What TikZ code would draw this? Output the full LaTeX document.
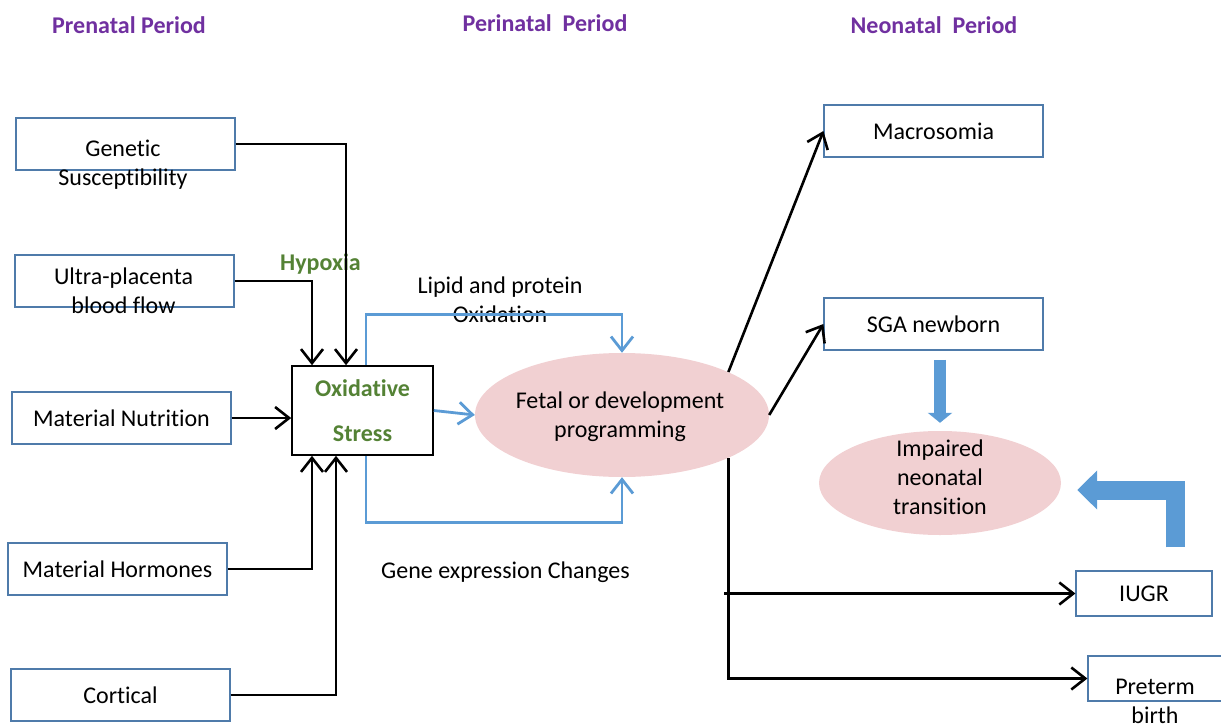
\documentclass[tikz,border=0pt]{standalone}
\usepackage{fontspec}
\setmainfont{Carlito}[Ligatures=NoCommon]
\usetikzlibrary{arrows.meta,shapes.geometric}
\definecolor{boxline}{HTML}{4F7BAA}
\definecolor{linkblue}{HTML}{5B9BD5}
\definecolor{pinkfill}{HTML}{F1D0D2}
\definecolor{titlepurple}{HTML}{7030A0}
\definecolor{stressgreen}{HTML}{548235}

\begin{document}
\begin{tikzpicture}[x=1pt,y=-1pt,
  every node/.style={font=\fontsize{24}{29}\selectfont, align=center, inner sep=0pt},
  period/.style={text=titlepurple, font=\fontsize{24}{28}\bfseries},
  factor/.style={draw=boxline, line width=1.2pt, minimum width=219pt, minimum height=52pt},
  blob/.style={ellipse, fill=pinkfill},
  link/.style={line width=2.6pt, -{Straight Barb[length=14pt,width=22pt]}},
  bluelink/.style={link, draw=linkblue, line width=2.8pt},
  fat/.style={draw=linkblue, line width=12pt, line join=miter, -{Triangle[length=10pt,width=24pt]}}]
  \useasboundingbox (0,0) rectangle (1221,725);

  \node (prenatal)  at (129,25) [period] {Prenatal Period};
  \node (perinatal) at (545,23) [period] {Perinatal\ \ Period};
  \node (neonatal)  at (934,25) [period] {Neonatal\ \ Period};

  \node (genetic)   at (125.5,144) [factor] {};
  \node (ultra)     at (124.5,281) [factor] {};
  \node (nutrition) at (121.5,418) [factor] {Material Nutrition};
  \node (hormones)  at (117.5,569) [factor] {Material Hormones};
  \node (cortical)  at (120.5,695) [factor] {Cortical};
  \node at (123,165) {Genetic\\Susceptibility};
  \node at (123.5,291) {Ultra-placenta\\blood flow};

  \node (oxidative) at (362.5,410.5) [draw, line width=1.6pt, minimum width=141pt, minimum height=89pt,
    text=stressgreen, font=\fontsize{24}{29}\bfseries] {Oxidative\\[16pt]Stress};
  \node (hypoxia)   at (320.5,264) [text=stressgreen, font=\fontsize{24}{29}\bfseries] {Hypoxia};

  \node (fetal)     at (622,415) [blob, minimum width=294pt, minimum height=124pt] {};
  \node at (620,417) {Fetal or development\\programming};
  \node (lipid)     at (500,300) {Lipid and protein\\Oxidation};
  \node (gene)      at (505.5,572) {Gene expression Changes};

  \node (macrosomia) at (933.5,131) [factor] {Macrosomia};
  \node (sga)        at (933.5,324) [factor] {SGA newborn};
  \node (impaired)   at (940,483) [blob, minimum width=242pt, minimum height=104pt] {};
  \node at (940,477) {Impaired\\neonatal\\transition};
  \node (iugr)       at (1144,593.5) [factor, minimum width=136pt, minimum height=45pt] {IUGR};
  \node (preterm)    at (1156.5,678.5) [factor, minimum width=137pt, minimum height=45pt] {};
  \node at (1155,701) {Preterm\\birth};

  % risk factors into oxidative stress
  \draw[link] (node cs:name=genetic,anchor=east) -| ([xshift=-16.5pt]oxidative.north);
  \draw[link] (node cs:name=ultra,anchor=east) -| ([xshift=-50.5pt]oxidative.north);
  \draw[link] (nutrition.east) -- (oxidative.west |- nutrition.east);
  \draw[link] (node cs:name=hormones,anchor=east) -| ([xshift=-50.5pt]oxidative.south);
  \draw[link] (node cs:name=cortical,anchor=east) -| ([xshift=-26.5pt]oxidative.south);

  \draw[bluelink] ([xshift=3.5pt]oxidative.north) -- ++(0,-51) -| (fetal.north);
  \draw[bluelink] ([xshift=3.5pt]oxidative.south) -- ++(0,67) -| (fetal.south);
  \draw[bluelink] (oxidative.east) -- (fetal.west);

  % outcomes
  \draw[link] (fetal.22) -- (macrosomia.west);
  \draw[link] (fetal.east) -- (sga.west);
  \draw[link] (fetal.-22) |- (preterm.west);
  \draw[link] ([xshift=-4pt]fetal.-22 |- iugr.west) -- (iugr.west);

  \draw[fat] ([yshift=71pt]impaired.north) -- ([yshift=8pt]impaired.north);
  \draw[fat, line width=19pt, -{Triangle[length=20pt,width=38pt]}]
    ([xshift=31.5pt,yshift=23pt]iugr.north) |- ([xshift=16pt,yshift=-7pt]impaired.east);
\end{tikzpicture}
\end{document}
